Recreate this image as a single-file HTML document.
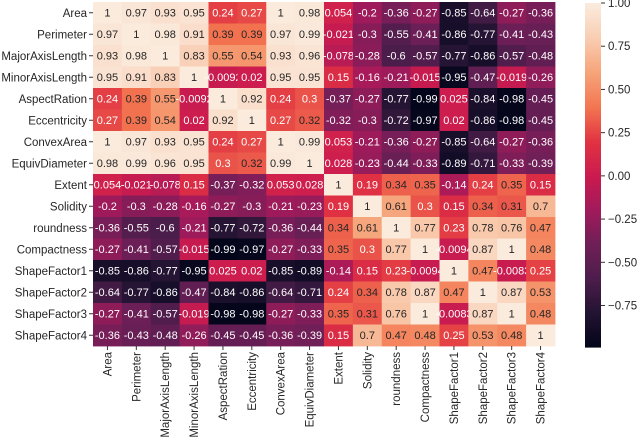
<!DOCTYPE html>
<html><head><meta charset="utf-8"><style>
html,body{margin:0;padding:0;background:#fff;width:640px;height:442px;overflow:hidden}
svg{font-family:"Liberation Sans","DejaVu Sans",sans-serif}
</style></head><body>
<svg id="chart" width="640" height="442" xmlns="http://www.w3.org/2000/svg"></svg>
<script>
const labels=["Area","Perimeter","MajorAxisLength","MinorAxisLength","AspectRation","Eccentricity","ConvexArea","EquivDiameter","Extent","Solidity","roundness","Compactness","ShapeFactor1","ShapeFactor2","ShapeFactor3","ShapeFactor4"];
const rowArea=[1,.97,.93,.95,.24,.27,1,.98,.054,-.2,-.36,-.27,-.85,-.64,-.27,-.36];
const rowPerimeter=[.97,1,.98,.91,.39,.39,.97,.99,-.021,-.3,-.55,-.41,-.86,-.77,-.41,-.43];
const rowMajor=[.93,.98,1,.83,.55,.54,.93,.96,-.078,-.28,-.6,-.57,-.77,-.86,-.57,-.48];
const rowMinor=[.95,.91,.83,1,-.0092,.02,.95,.95,.15,-.16,-.21,-.015,-.95,-.47,-.019,-.26];
const rowAspect=[.24,.39,.55,-.0092,1,.92,.24,.3,-.37,-.27,-.77,-.99,.025,-.84,-.98,-.45];
const rowEcc=[.27,.39,.54,.02,.92,1,.27,.32,-.32,-.3,-.72,-.97,.02,-.86,-.98,-.45];
const rowConvex=[1,.97,.93,.95,.24,.27,1,.99,.053,-.21,-.36,-.27,-.85,-.64,-.27,-.36];
const rowEquiv=[.98,.99,.96,.95,.3,.32,.99,1,.028,-.23,-.44,-.33,-.89,-.71,-.33,-.39];
const rowExtent=[.054,-.021,-.078,.15,-.37,-.32,.053,.028,1,.19,.34,.35,-.14,.24,.35,.15];
const rowSolidity=[-.2,-.3,-.28,-.16,-.27,-.3,-.21,-.23,.19,1,.61,.3,.15,.34,.31,.7];
const rowRound=[-.36,-.55,-.6,-.21,-.77,-.72,-.36,-.44,.34,.61,1,.77,.23,.78,.76,.47];
const rowCompact=[-.27,-.41,-.57,-.015,-.99,-.97,-.27,-.33,.35,.3,.77,1,-.0094,.87,1,.48];
const rowSF1=[-.85,-.86,-.77,-.95,.025,.02,-.85,-.89,-.14,.15,.23,-.0094,1,.47,-.0083,.25];
const rowSF2=[-.64,-.77,-.86,-.47,-.84,-.86,-.64,-.71,.24,.34,.78,.87,.47,1,.87,.53];
const rowSF3=[-.27,-.41,-.57,-.019,-.98,-.98,-.27,-.33,.35,.31,.76,1,-.0083,.87,1,.48];
const rowSF4=[-.36,-.43,-.48,-.26,-.45,-.45,-.36,-.39,.15,.7,.47,.48,.25,.53,.48,1];
const matrix=[rowArea,rowPerimeter,rowMajor,rowMinor,rowAspect,rowEcc,rowConvex,rowEquiv,rowExtent,rowSolidity,rowRound,rowCompact,rowSF1,rowSF2,rowSF3,rowSF4];
const cbTicks=[1,0.75,0.5,0.25,0,-0.25,-0.5,-0.75];
const vmin=-0.99,vmax=1;

const NS="http://www.w3.org/2000/svg";
const svg=document.getElementById('chart');
const gx0=93,gx1=555,gy0=2,gy1=346;
const n=labels.length,cw=(gx1-gx0)/n,ch=(gy1-gy0)/n;
const xPos=i=>gx0+i*cw, yPos=i=>gy0+i*ch;
const stops=[[0,[3,5,26]],[.1,[34,19,49]],[.2,[76,29,75]],[.3,[111,31,87]],[.4,[161,26,91]],[.5,[203,27,79]],[.6,[225,51,66]],[.7,[243,118,81]],[.8,[246,164,122]],[.9,[249,205,178]],[1,[250,235,221]]];
function cmap(v){let t=(v-vmin)/(vmax-vmin);t=Math.max(0,Math.min(1,t));
 for(let k=1;k<stops.length;k++){if(t<=stops[k][0]){const a=stops[k-1],b=stops[k];const f=(t-a[0])/(b[0]-a[0]);
 return a[1].map((c,j)=>Math.round(c+(b[1][j]-c)*f));}}return stops[stops.length-1][1];}
function el(tag,attrs){const e=document.createElementNS(NS,tag);for(const k in attrs)e.setAttribute(k,attrs[k]);svg.appendChild(e);return e;}
function fmt(v){return String(parseFloat(v.toPrecision(2)));}

for(let r=0;r<n;r++){for(let c=0;c<n;c++){
 const v=matrix[r][c];const col=cmap(v);
 const rect=el('rect',{x:xPos(c),y:yPos(r),width:cw+0.4,height:ch+0.4,fill:`rgb(${col})`});
 
 
 const lum=(0.2126*col[0]+0.7152*col[1]+0.0722*col[2])/255;
 const t=el('text',{x:xPos(c)+cw/2,y:yPos(r)+ch/2+3.8,'font-size':'11','text-anchor':'middle',fill:lum>0.45?'#262626':'#ffffff'});
 t.textContent=fmt(v);
 
 
}}
labels.forEach((lab,i)=>{
 const cy=yPos(i)+ch/2;
 el('line',{x1:gx0-4,x2:gx0,y1:cy,y2:cy,stroke:'#333','stroke-width':1});
 const t=el('text',{x:gx0-6,y:cy+4,'font-size':'11.5','text-anchor':'end',fill:'#262626'});
 t.textContent=lab;
 
 
 const cx=xPos(i)+cw/2;
 el('line',{x1:cx,x2:cx,y1:gy1,y2:gy1+4,stroke:'#333','stroke-width':1});
 const tx=el('text',{x:0,y:0,'font-size':'11.5','text-anchor':'end',fill:'#262626',transform:`translate(${cx+4},${gy1+6}) rotate(-90)`});
 tx.textContent=lab;
 
 
});
const cbx=585,cbw=16,cby0=3,cby1=347;
const cbY=v=>cby0+(vmax-v)/(vmax-vmin)*(cby1-cby0);
for(let k=0;k<200;k++){const v=vmax-(k/200)*(vmax-vmin);const col=cmap(v);
 const r=el('rect',{x:cbx,y:cby0+k*(cby1-cby0)/200,width:cbw,height:(cby1-cby0)/200+0.6,fill:`rgb(${col})`});
 
 
}
cbTicks.forEach(v=>{const y=cbY(v);
 el('line',{x1:cbx+cbw,x2:cbx+cbw+4,y1:y,y2:y,stroke:'#333','stroke-width':1});
 const t=el('text',{x:cbx+cbw+7,y:y+4,'font-size':'11.5',fill:'#262626'});
 t.textContent=(v<0?'\u2212':'')+Math.abs(v).toFixed(2);
 
 
});
</script>
</body></html>
